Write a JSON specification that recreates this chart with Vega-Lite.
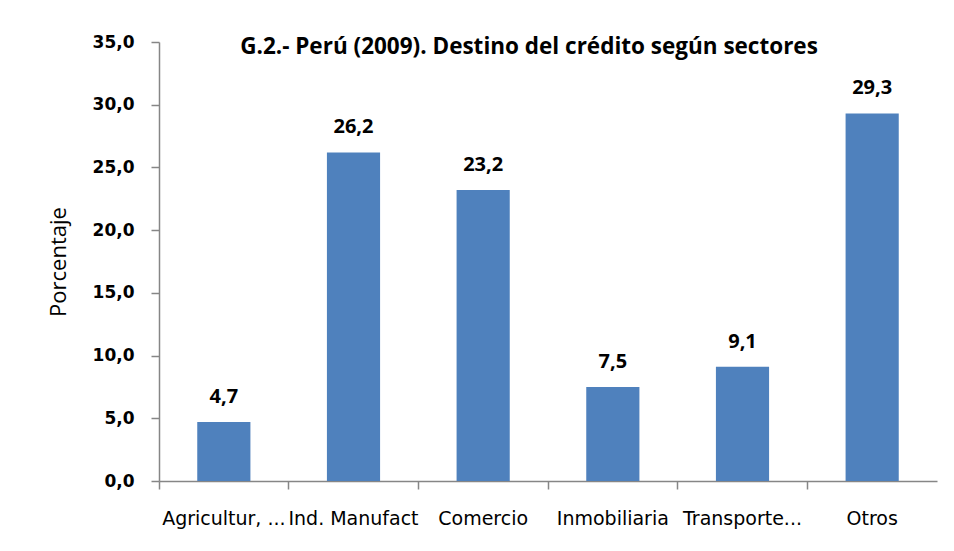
{
  "$schema": "https://vega.github.io/schema/vega-lite/v6.json",
  "width": 778,
  "height": 439,
  "padding": {"left": 159, "top": 42, "right": 17, "bottom": 70},
  "autosize": {"type": "none"},
  "background": "white",
  "config": {
    "view": {"stroke": null},
    "locale": {"number": {"decimal": ",", "thousands": ".", "grouping": [3], "currency": ["", " €"]}}
  },
  "title": {
    "text": "G.2.- Perú (2009). Destino del crédito según sectores",
    "font": "Open Sans",
    "fontSize": 22.5,
    "fontWeight": "bold",
    "color": "#000000",
    "anchor": "middle",
    "dx": -19,
    "offset": -25
  },
  "data": {
    "values": [
      {"sector": "Agricultur, ...", "valor": 4.7},
      {"sector": "Ind. Manufact", "valor": 26.2},
      {"sector": "Comercio", "valor": 23.2},
      {"sector": "Inmobiliaria", "valor": 7.5},
      {"sector": "Transporte...", "valor": 9.1},
      {"sector": "Otros", "valor": 29.3}
    ]
  },
  "encoding": {
    "x": {
      "field": "sector",
      "type": "nominal",
      "sort": null,
      "scale": {"paddingInner": 0, "paddingOuter": 0},
      "axis": {
        "title": null,
        "labelAngle": 0,
        "labelOverlap": false,
        "bandPosition": 0,
        "labelFont": "DejaVu Sans",
        "labelFontSize": 19,
        "labelColor": "#000000",
        "labelPadding": 20,
        "tickSize": 8,
        "tickColor": "#868686",
        "domainColor": "#868686",
        "tickWidth": 1.5,
        "domainWidth": 1.5
      }
    },
    "y": {
      "field": "valor",
      "type": "quantitative",
      "scale": {"domain": [0, 35]},
      "axis": {
        "title": "Porcentaje",
        "titleFont": "Open Sans",
        "titleFontSize": 22,
        "titleFontWeight": "normal",
        "titleColor": "#000000",
        "titlePadding": 22,
        "values": [0, 5, 10, 15, 20, 25, 30, 35],
        "format": ".1f",
        "grid": false,
        "labelFont": "DejaVu Sans",
        "labelFontSize": 17,
        "labelFontWeight": "bold",
        "labelColor": "#000000",
        "labelPadding": 17,
        "tickSize": 8,
        "tickColor": "#868686",
        "domainColor": "#868686",
        "tickWidth": 1.5,
        "domainWidth": 1.5
      }
    }
  },
  "layer": [
    {"mark": {"type": "bar", "color": "#4F81BD", "width": {"band": 0.41}}},
    {
      "mark": {"type": "text", "dy": -25, "font": "Open Sans", "fontSize": 20, "fontWeight": "bold", "color": "#000000"},
      "encoding": {"text": {"field": "valor", "type": "quantitative", "format": ".1f"}}
    }
  ]
}
